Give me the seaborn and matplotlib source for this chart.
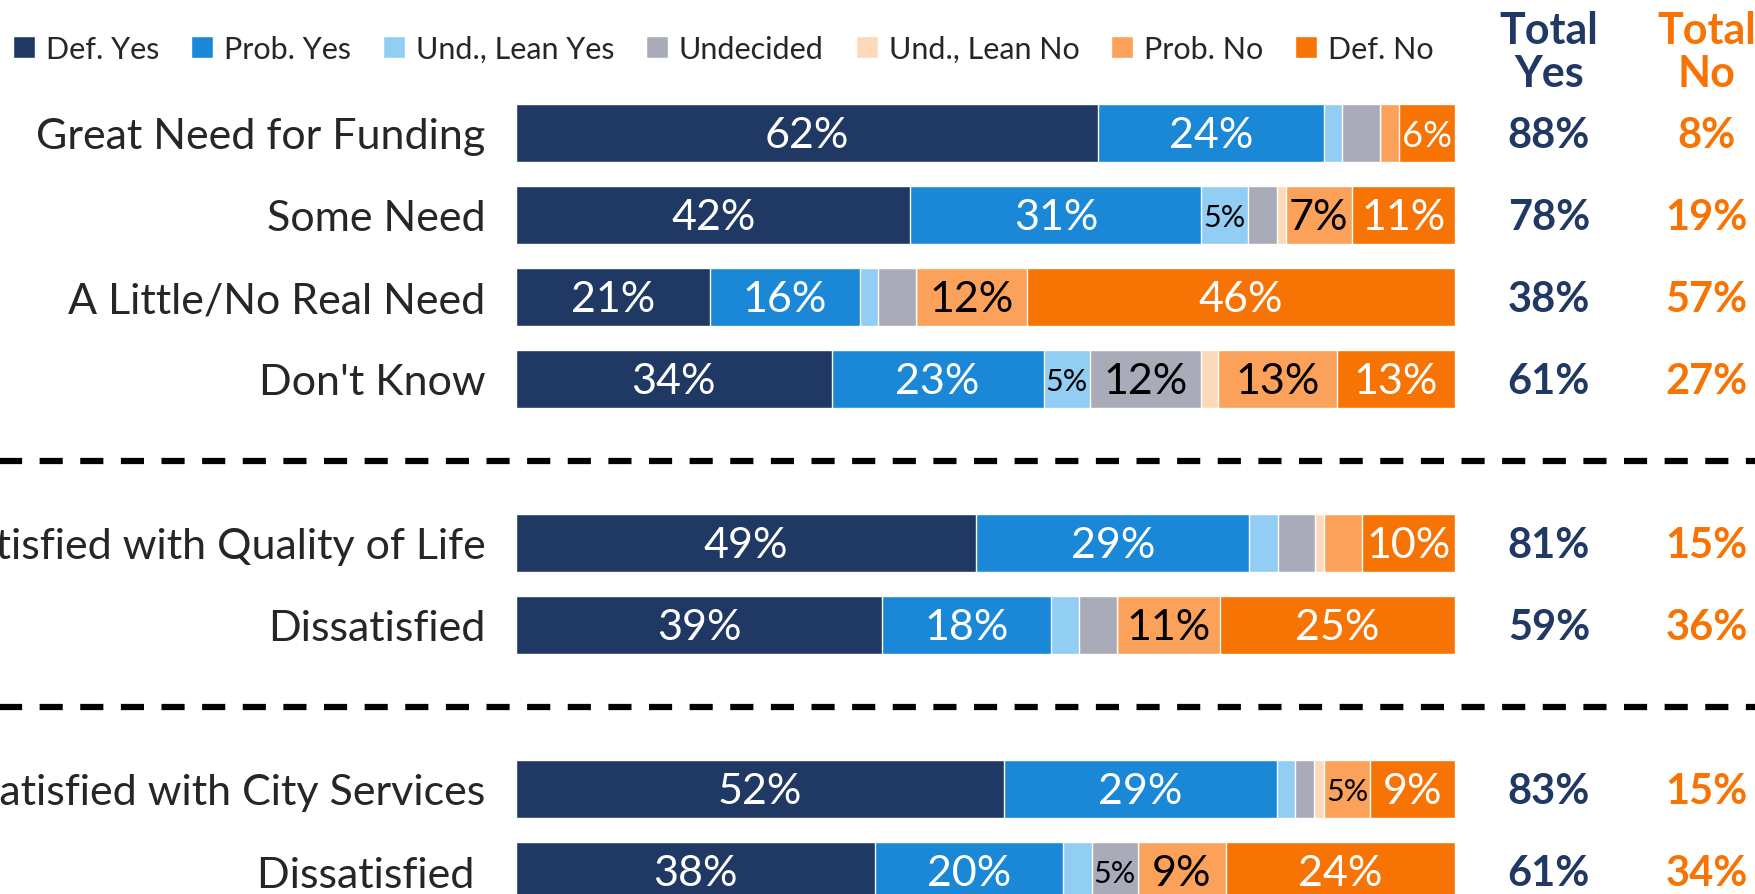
import matplotlib
matplotlib.use("Agg")
import matplotlib.pyplot as plt
from matplotlib.patches import Patch
import seaborn as sns
import numpy as np

# --- data (percent of each group) ---
categories = ["Great Need for Funding", "Some Need", "A Little/No Real Need", "Don't Know",
              "Satisfied with Quality of Life", "Dissatisfied",
              "Satisfied with City Services", "Dissatisfied "]
# blank slots where the dashed separators go
order = categories[:4] + [" "] + categories[4:6] + ["  "] + categories[6:]

def_yes = [62.0, 42.0, 20.7, 33.6, 49.0, 39.0, 52.0, 38.2]
prob_yes = [24.0, 31.0, 15.9, 22.6, 29.1, 18.0, 29.0, 20.1]
lean_yes = [2.0, 5.0, 2.0, 4.9, 3.1, 3.0, 2.0, 3.0]
undecided = [4.0, 3.0, 4.0, 11.8, 3.9, 4.0, 2.0, 4.9]
lean_no = [0.0, 1.0, 0.0, 1.9, 1.0, 0.0, 1.0, 0.0]
prob_no = [2.0, 7.0, 11.8, 12.6, 4.0, 11.0, 5.0, 9.4]
def_no = [6.0, 11.0, 45.6, 12.6, 9.9, 25.0, 9.0, 24.4]

total_yes = [88, 78, 38, 61, 81, 59, 83, 61]
total_no = [8, 19, 57, 27, 15, 36, 15, 34]

series_names = ["Def. Yes", "Prob. Yes", "Und., Lean Yes", "Undecided",
                "Und., Lean No", "Prob. No", "Def. No"]
series = [def_yes, prob_yes, lean_yes, undecided, lean_no, prob_no, def_no]
colors = ["#1F3864", "#1A88D6", "#92CDF3", "#A9ABB8", "#FDD9BB", "#FBA159", "#F67304"]
white_text = {"Def. Yes", "Prob. Yes", "Def. No"}

NAVY = "#1F3864"
ORANGE = "#F67304"

sns.set_style("white")
plt.rcParams["font.family"] = ["Lato", "DejaVu Sans"]

fig = plt.figure(figsize=(17.56, 8.95), dpi=100)
ax = fig.add_axes([516 / 1756, 0, 939 / 1756, 1])

# stacked bars: draw cumulative totals from the last series back to the first
cum = np.cumsum(np.array(series), axis=0)
for i in range(len(series) - 1, -1, -1):
    sns.barplot(x=cum[i], y=categories, order=order, orient="h", color=colors[i],
                saturation=1, width=0.71, errorbar=None, ax=ax)

# segment labels
for j, cat in enumerate(categories):
    ypos = order.index(cat)
    left = 0
    for name, vals, col in zip(series_names, series, colors):
        v = vals[j]
        lab = int(round(v))
        if lab >= 5:
            size = 22 if lab <= 5 else (26 if lab <= 6 else 31)
            ax.text(left + v / 2, ypos + 0.03, f"{lab}%", ha="center", va="center",
                    fontsize=size, color="white" if name in white_text else "black")
        left += v
    ax.text(110, ypos + 0.03, f"{total_yes[j]}%", ha="center", va="center", fontsize=30,
            fontweight="bold", color=NAVY, clip_on=False)
    ax.text(126.8, ypos + 0.03, f"{total_no[j]}%", ha="center", va="center", fontsize=30,
            fontweight="bold", color=ORANGE, clip_on=False)

ax.text(110, -0.99, "Total\nYes", ha="center", va="center", fontsize=31,
        fontweight="bold", color=NAVY, linespacing=1.1, clip_on=False)
ax.text(126.8, -0.99, "Total\nNo", ha="center", va="center", fontsize=31,
        fontweight="bold", color=ORANGE, linespacing=1.1, clip_on=False)

# dashed separators across the full width
for y in [order.index(" "), order.index("  ")]:
    ax.axhline(y, xmin=-0.6, xmax=1.4, color="black", lw=4.5,
               linestyle=(0, (3.7, 2.8)), clip_on=False)

ax.set_xlim(0, 100)
ax.set_ylim(9.28, -1.63)
ax.xaxis.set_visible(False)
ax.set_ylabel("")
ax.tick_params(axis="y", length=0, pad=22, labelsize=31)
sns.despine(ax=ax, left=True, bottom=True)

handles = [Patch(facecolor=c) for c in colors]
fig.legend(handles, series_names, ncol=7, loc="center left",
           bbox_to_anchor=(13 / 1756, 1 - 50 / 895), frameon=False, fontsize=22,
           handlelength=0.72, handleheight=0.72, handletextpad=0.35,
           columnspacing=1.05, borderpad=0, borderaxespad=0)

fig.savefig("out.png", dpi=100)
